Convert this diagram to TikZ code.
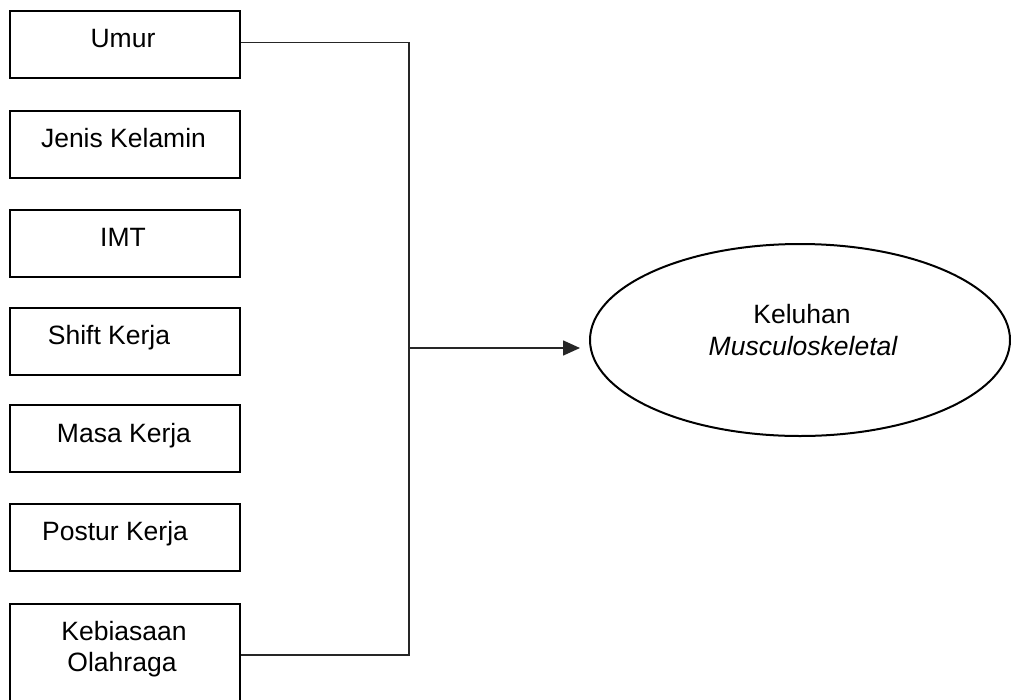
\documentclass[tikz,border=0pt]{standalone}
\usepackage{fontspec}
\setmainfont{Liberation Sans}
\usetikzlibrary{arrows.meta,shapes.geometric}
\tikzset{
  varbox/.style={draw=black, line width=2pt, rectangle, minimum width=230pt, minimum height=67pt, inner sep=0pt, anchor=north west},
  lbl/.style={anchor=base, inner sep=0pt, font=\fontsize{26.5}{30}\selectfont},
  conn/.style={draw=black!85, line width=1.6pt},
}
\begin{document}
\begin{tikzpicture}[x=1pt,y=-1pt]
\clip (0,0) rectangle (1011,699);
\fill[white] (0,0) rectangle (1011,699);
% boxes
\node[varbox] (umur) at (9,10) {};
\node[varbox] (jk) at (9,110) {};
\node[varbox] (imt) at (9,209) {};
\node[varbox] (shift) at (9,307) {};
\node[varbox] (masa) at (9,404) {};
\node[varbox] (postur) at (9,503) {};
\node[varbox, minimum height=102pt] (keb) at (9,603) {};
% labels
\node[lbl] (tumur) at (123,47) {Umur};
\node[lbl] (tjk) at (123.5,147) {Jenis Kelamin};
\node[lbl] (timt) at (123,246) {IMT};
\node[lbl] (tshift) at (109,344) {Shift Kerja};
\node[lbl] (tmasa) at (124,442) {Masa Kerja};
\node[lbl] (tpostur) at (115,540) {Postur Kerja};
\node[lbl] (tkeb1) at (124,640) {Kebiasaan};
\node[lbl] (tkeb2) at (122,671) {Olahraga};
% ellipse
\node[draw=black, line width=2pt, ellipse, minimum width=420pt, minimum height=192pt, inner sep=0pt] (mk) at (800,340) {};
\node[lbl] (tk1) at (802,323) {Keluhan};
\node[lbl] (tk2) at (803,355) {\itshape Musculoskeletal};
% connectors
\coordinate (j) at (409,348);
\draw[conn] ([yshift=2pt]umur.east) -| (j);
\draw[conn] (keb.east) -| (j);
\draw[conn, -{Triangle[length=17pt,width=15pt]}] (j) -- ([xshift=-9pt]j -| mk.west);
\end{tikzpicture}
\end{document}
